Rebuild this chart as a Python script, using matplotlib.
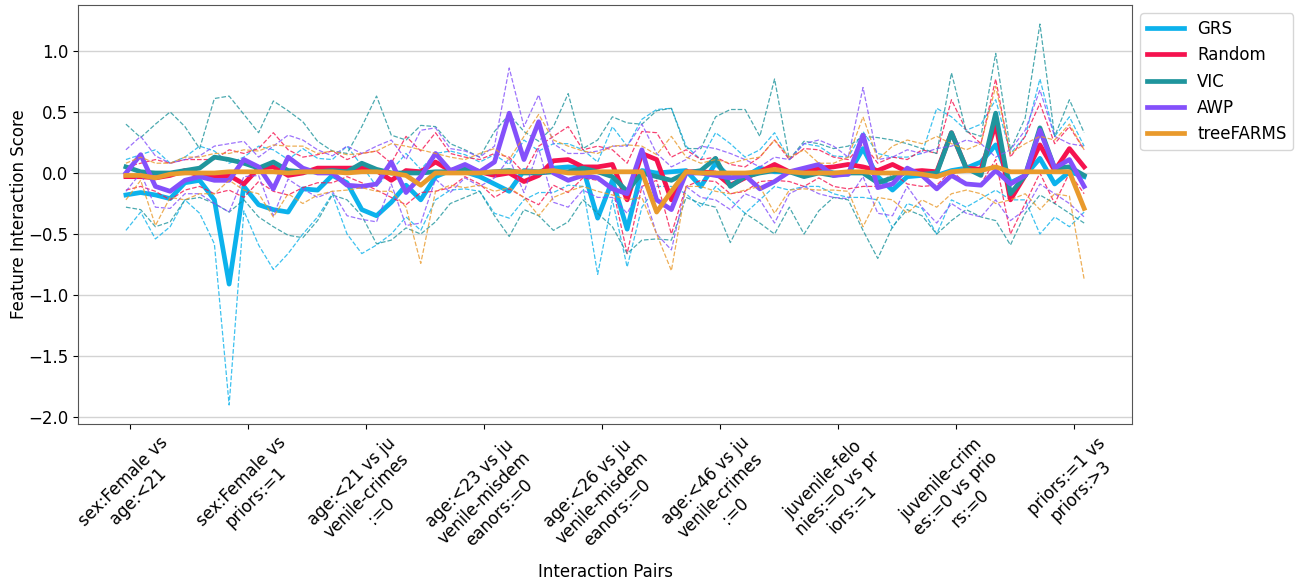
import numpy as np
import matplotlib
matplotlib.use("Agg")
import matplotlib.pyplot as plt

# tick labels (one every 8 interaction pairs)
pair_labels = [
    "sex:Female vs\nage:<21",
    "sex:Female vs\npriors:=1",
    "age:<21 vs ju\nvenile-crimes\n:=0",
    "age:<23 vs ju\nvenile-misdem\neanors:=0",
    "age:<26 vs ju\nvenile-misdem\neanors:=0",
    "age:<46 vs ju\nvenile-crimes\n:=0",
    "juvenile-felo\nnies:=0 vs pr\niors:=1",
    "juvenile-crim\nes:=0 vs prio\nrs:=0",
    "priors:=1 vs\npriors:>3",
]
n_pairs = 66

grs_mean = [-0.18, -0.16, -0.18, -0.21, -0.08, -0.06, -0.22, -0.91, -0.11, -0.26, -0.30, -0.32, -0.13, -0.14, -0.02, -0.08,
            -0.30, -0.35, -0.24, -0.10, -0.22, -0.03, 0.02, 0.01, -0.03, -0.09, -0.15, 0.02, 0.01, 0.04, 0.05, 0.04,
            -0.37, -0.06, -0.46, 0.02, 0.00, 0.01, 0.02, -0.11, 0.08, -0.04, -0.03, 0.04, 0.01, 0.01, 0.02, 0.04,
            0.00, -0.01, 0.20, -0.03, -0.14, -0.03, -0.02, -0.02, 0.02, 0.04, 0.09, 0.23, -0.08, -0.02, 0.12, -0.09, 0.01, -0.03]
grs_upper = [0.11, 0.15, 0.19, 0.08, 0.13, 0.22, 0.18, 0.08, 0.13, 0.22, 0.19, 0.11, 0.20, 0.12, 0.11, 0.22,
             0.06, -0.11, 0.02, 0.16, 0.03, 0.16, 0.18, 0.15, 0.09, 0.15, 0.07, 0.27, 0.18, 0.24, 0.24, 0.19,
             0.09, 0.38, 0.22, 0.44, 0.52, 0.53, 0.22, 0.11, 0.33, 0.24, 0.13, 0.19, 0.33, 0.11, 0.24, 0.22,
             0.14, 0.13, 0.34, 0.16, 0.13, 0.13, 0.16, 0.53, 0.46, 0.35, 0.40, 0.60, 0.16, 0.30, 0.77, 0.30, 0.46, 0.22]
grs_lower = [-0.47, -0.32, -0.54, -0.44, -0.22, -0.33, -0.58, -1.90, -0.31, -0.59, -0.79, -0.66, -0.50, -0.36, -0.17, -0.50,
             -0.66, -0.59, -0.50, -0.36, -0.47, -0.22, -0.14, -0.13, -0.15, -0.33, -0.37, -0.22, -0.16, -0.16, -0.10, -0.11,
             -0.83, -0.22, -0.77, -0.28, -0.11, -0.11, -0.17, -0.28, -0.11, -0.22, -0.33, -0.22, -0.11, -0.14, -0.11, -0.11,
             -0.17, -0.20, -0.20, -0.22, -0.45, -0.25, -0.29, -0.50, -0.22, -0.28, -0.21, -0.14, -0.22, -0.22, -0.50, -0.36, -0.44, -0.32]

random_mean = [-0.03, -0.03, -0.04, -0.02, 0.02, -0.02, -0.03, -0.02, -0.09, 0.04, 0.05, -0.02, 0.00, 0.04, 0.04, 0.04,
               0.04, 0.02, -0.06, 0.02, 0.01, 0.09, 0.02, 0.05, 0.01, -0.02, 0.00, -0.07, -0.02, 0.10, 0.11, 0.05,
               0.05, 0.07, -0.22, 0.16, 0.11, -0.22, 0.01, 0.01, 0.00, -0.10, -0.04, 0.01, 0.07, 0.01, 0.01, 0.04,
               0.05, 0.07, 0.05, 0.02, 0.07, 0.01, 0.02, 0.01, 0.33, 0.04, 0.03, 0.40, -0.22, -0.02, 0.23, 0.02, 0.20, 0.05]
random_upper = [0.05, 0.08, 0.11, 0.08, 0.11, 0.11, 0.11, 0.19, 0.16, 0.20, 0.33, 0.19, 0.13, 0.15, 0.18, 0.11,
                0.16, 0.18, 0.08, 0.30, 0.18, 0.33, 0.16, 0.13, 0.11, 0.16, 0.13, 0.00, 0.22, 0.30, 0.38, 0.19,
                0.22, 0.19, 0.08, 0.34, 0.33, 0.13, 0.19, 0.11, 0.13, 0.07, 0.05, 0.13, 0.27, 0.11, 0.20, 0.19,
                0.13, 0.11, 0.24, 0.08, 0.13, 0.11, 0.19, 0.16, 0.60, 0.35, 0.24, 0.77, 0.13, 0.30, 0.57, 0.24, 0.38, 0.19]
random_lower = [-0.14, -0.11, -0.15, -0.22, -0.14, -0.11, -0.17, -0.14, -0.20, -0.07, -0.15, -0.18, -0.12, -0.08, -0.08, -0.03,
                -0.08, -0.14, -0.20, -0.26, -0.16, -0.15, -0.12, -0.03, -0.09, -0.20, -0.13, -0.20, -0.26, -0.10, -0.16, -0.04,
                -0.06, -0.11, -0.66, -0.11, -0.06, -0.50, -0.11, -0.06, -0.07, -0.17, -0.15, -0.07, -0.06, -0.07, -0.11, -0.04,
                -0.11, -0.13, -0.11, -0.11, 0.00, -0.09, -0.11, -0.10, 0.02, -0.09, -0.09, 0.11, -0.50, -0.25, 0.00, -0.25, 0.00, -0.17]

vic_mean = [0.05, 0.01, 0.00, 0.00, 0.02, 0.04, 0.13, 0.11, 0.08, 0.04, 0.09, 0.02, 0.01, 0.01, 0.02, 0.01,
            0.08, 0.03, 0.00, 0.00, 0.00, 0.01, 0.01, 0.04, 0.00, 0.01, 0.02, 0.00, 0.00, 0.01, 0.01, 0.04,
            0.01, -0.03, -0.15, 0.00, -0.03, -0.06, 0.00, 0.02, 0.12, -0.11, -0.03, 0.00, 0.02, 0.01, -0.03, 0.00,
            -0.02, 0.00, 0.00, -0.08, -0.04, 0.01, -0.01, 0.00, 0.33, 0.04, -0.02, 0.49, -0.17, -0.02, 0.37, 0.04, 0.05, -0.02]
vic_upper = [0.40, 0.29, 0.40, 0.50, 0.38, 0.20, 0.61, 0.63, 0.48, 0.33, 0.59, 0.51, 0.42, 0.26, 0.18, 0.16,
             0.38, 0.63, 0.31, 0.27, 0.39, 0.38, 0.24, 0.19, 0.13, 0.34, 0.48, 0.34, 0.26, 0.38, 0.65, 0.20,
             0.27, 0.46, 0.41, 0.40, 0.51, 0.53, 0.20, 0.20, 0.46, 0.52, 0.52, 0.30, 0.77, 0.11, 0.26, 0.24,
             0.20, 0.22, 0.30, 0.29, 0.27, 0.24, 0.20, 0.16, 0.82, 0.34, 0.30, 0.98, 0.19, 0.45, 1.22, 0.30, 0.60, 0.33]
vic_lower = [-0.28, -0.30, -0.44, -0.40, -0.22, -0.20, -0.25, -0.32, -0.22, -0.36, -0.44, -0.51, -0.53, -0.39, -0.18, -0.22,
             -0.35, -0.58, -0.55, -0.45, -0.50, -0.40, -0.25, -0.20, -0.15, -0.35, -0.52, -0.30, -0.35, -0.47, -0.40, -0.22,
             -0.33, -0.44, -0.66, -0.55, -0.54, -0.55, -0.20, -0.25, -0.28, -0.57, -0.33, -0.41, -0.50, -0.28, -0.50, -0.31,
             -0.20, -0.22, -0.47, -0.70, -0.44, -0.30, -0.35, -0.50, -0.39, -0.30, -0.36, -0.39, -0.59, -0.33, -0.18, -0.25, -0.33, -0.41]

awp_mean = [0.00, 0.15, -0.11, -0.15, -0.06, -0.03, -0.06, -0.06, 0.11, 0.05, -0.13, 0.13, 0.04, 0.00, 0.00, -0.10,
            -0.11, -0.09, 0.09, -0.16, -0.03, 0.16, 0.02, 0.07, 0.01, 0.09, 0.49, 0.11, 0.42, 0.00, -0.06, -0.02,
            -0.04, -0.13, -0.17, 0.19, -0.22, -0.30, 0.00, 0.00, -0.02, -0.04, -0.02, -0.13, -0.07, 0.01, 0.04, 0.07,
            -0.02, -0.01, 0.31, -0.12, -0.09, 0.04, -0.02, -0.13, -0.02, -0.09, -0.10, 0.02, -0.09, -0.02, 0.35, 0.04, 0.11, -0.11]
awp_upper = [0.19, 0.30, 0.14, 0.08, 0.11, 0.14, 0.22, 0.24, 0.26, 0.13, 0.22, 0.31, 0.27, 0.19, 0.14, 0.22,
             0.16, 0.22, 0.27, 0.11, 0.35, 0.37, 0.20, 0.18, 0.13, 0.22, 0.86, 0.38, 0.64, 0.24, 0.16, 0.16,
             0.18, 0.22, 0.22, 0.40, 0.16, 0.05, 0.11, 0.22, 0.20, 0.16, 0.11, 0.05, 0.13, 0.11, 0.24, 0.27,
             0.22, 0.13, 0.70, 0.11, 0.13, 0.19, 0.16, 0.20, 0.22, 0.27, 0.24, 0.13, 0.19, 0.35, 0.68, 0.30, 0.24, 0.22]
awp_lower = [-0.15, 0.00, -0.28, -0.29, -0.17, -0.17, -0.25, -0.32, -0.03, -0.02, -0.35, -0.05, -0.13, -0.20, -0.15, -0.35,
             -0.38, -0.40, -0.09, -0.43, -0.41, -0.05, -0.16, -0.04, -0.11, -0.04, 0.12, -0.16, 0.20, -0.24, -0.28, -0.14,
             -0.20, -0.20, -0.33, -0.11, -0.50, -0.63, -0.11, -0.20, -0.22, -0.30, -0.17, -0.22, -0.41, -0.17, -0.11, -0.17,
             -0.20, -0.21, -0.03, -0.33, -0.35, -0.11, -0.28, -0.41, -0.25, -0.33, -0.36, -0.22, -0.39, -0.30, -0.09, -0.17, -0.25, -0.36]

tf_mean = [-0.02, -0.02, -0.04, -0.01, 0.00, 0.00, 0.00, 0.01, 0.01, 0.01, 0.01, 0.00, 0.01, 0.01, 0.01, 0.00,
           0.01, 0.01, 0.00, -0.02, -0.10, 0.00, 0.00, 0.00, 0.00, 0.01, 0.01, 0.01, 0.01, 0.02, 0.00, 0.00,
           0.01, 0.01, 0.01, 0.01, -0.32, -0.15, 0.01, 0.00, 0.00, 0.00, 0.00, 0.01, 0.03, 0.01, 0.00, 0.00,
           0.00, 0.01, 0.01, 0.00, 0.00, 0.00, -0.01, -0.03, 0.01, 0.02, 0.02, 0.05, 0.01, 0.01, 0.01, 0.01, 0.01, -0.29]
tf_upper = [0.08, 0.13, 0.08, 0.08, 0.13, 0.13, 0.16, 0.16, 0.19, 0.18, 0.23, 0.22, 0.22, 0.16, 0.18, 0.15,
            0.16, 0.18, 0.24, 0.22, 0.19, 0.16, 0.13, 0.11, 0.16, 0.20, 0.11, 0.30, 0.48, 0.27, 0.22, 0.18,
            0.16, 0.22, 0.23, 0.22, 0.15, 0.30, 0.13, 0.08, 0.11, 0.08, 0.11, 0.13, 0.27, 0.13, 0.19, 0.08,
            0.08, 0.13, 0.46, 0.11, 0.22, 0.27, 0.24, 0.30, 0.24, 0.19, 0.24, 0.71, 0.16, 0.24, 0.30, 0.27, 0.40, 0.19]
tf_lower = [-0.22, -0.06, -0.43, -0.20, -0.22, -0.17, -0.17, -0.06, -0.14, -0.17, -0.36, -0.17, -0.25, -0.18, -0.15, -0.14,
            -0.12, -0.15, -0.15, -0.28, -0.74, -0.15, -0.10, -0.12, -0.10, -0.15, -0.12, -0.20, -0.35, -0.20, -0.15, -0.11,
            -0.15, -0.18, -0.22, -0.20, -0.50, -0.80, -0.11, -0.11, -0.15, -0.17, -0.14, -0.11, -0.33, -0.14, -0.13, -0.14,
            -0.14, -0.15, -0.44, -0.20, -0.22, -0.33, -0.22, -0.28, -0.17, -0.14, -0.17, -0.25, -0.22, -0.17, -0.30, -0.17, -0.19, -0.87]

methods = ["GRS", "Random", "VIC", "AWP", "treeFARMS"]
colors = ["#0cb2ec", "#f5134f", "#1f959d", "#8450fb", "#e99a2c"]
means = [grs_mean, random_mean, vic_mean, awp_mean, tf_mean]
uppers = [grs_upper, random_upper, vic_upper, awp_upper, tf_upper]
lowers = [grs_lower, random_lower, vic_lower, awp_lower, tf_lower]

plt.rcParams["font.size"] = 12
fig = plt.figure(figsize=(12.96, 5.81), dpi=100)
ax = fig.add_axes([0.0602, 0.2702, 0.8133, 0.7212])

x = np.arange(n_pairs)
for name, color, m, up, lo in zip(methods, colors, means, uppers, lowers):
    ax.plot(x, up, "--", color=color, linewidth=0.9, alpha=0.8)
    ax.plot(x, lo, "--", color=color, linewidth=0.9, alpha=0.8)
    ax.plot(x, m, "-", color=color, linewidth=3.4, label=name)

# labels sit on every 8th pair (slightly offset in the original)
ax.set_xticks(np.arange(0, n_pairs, 8) + 0.3)
ax.set_xticklabels(pair_labels, rotation=45, ha="center", multialignment="center")
ax.grid(axis="y", color="#d3d3d3", linewidth=1)
ax.set_axisbelow(True)
for s in ax.spines.values():
    s.set_color("#555555")
ax.set_xlabel("Interaction Pairs", labelpad=0)
ax.set_ylabel("Feature Interaction Score", labelpad=0)
ax.legend(loc="upper left", bbox_to_anchor=(1.0, 1.0), handlelength=2.2)

fig.savefig("out.png", dpi=100)
